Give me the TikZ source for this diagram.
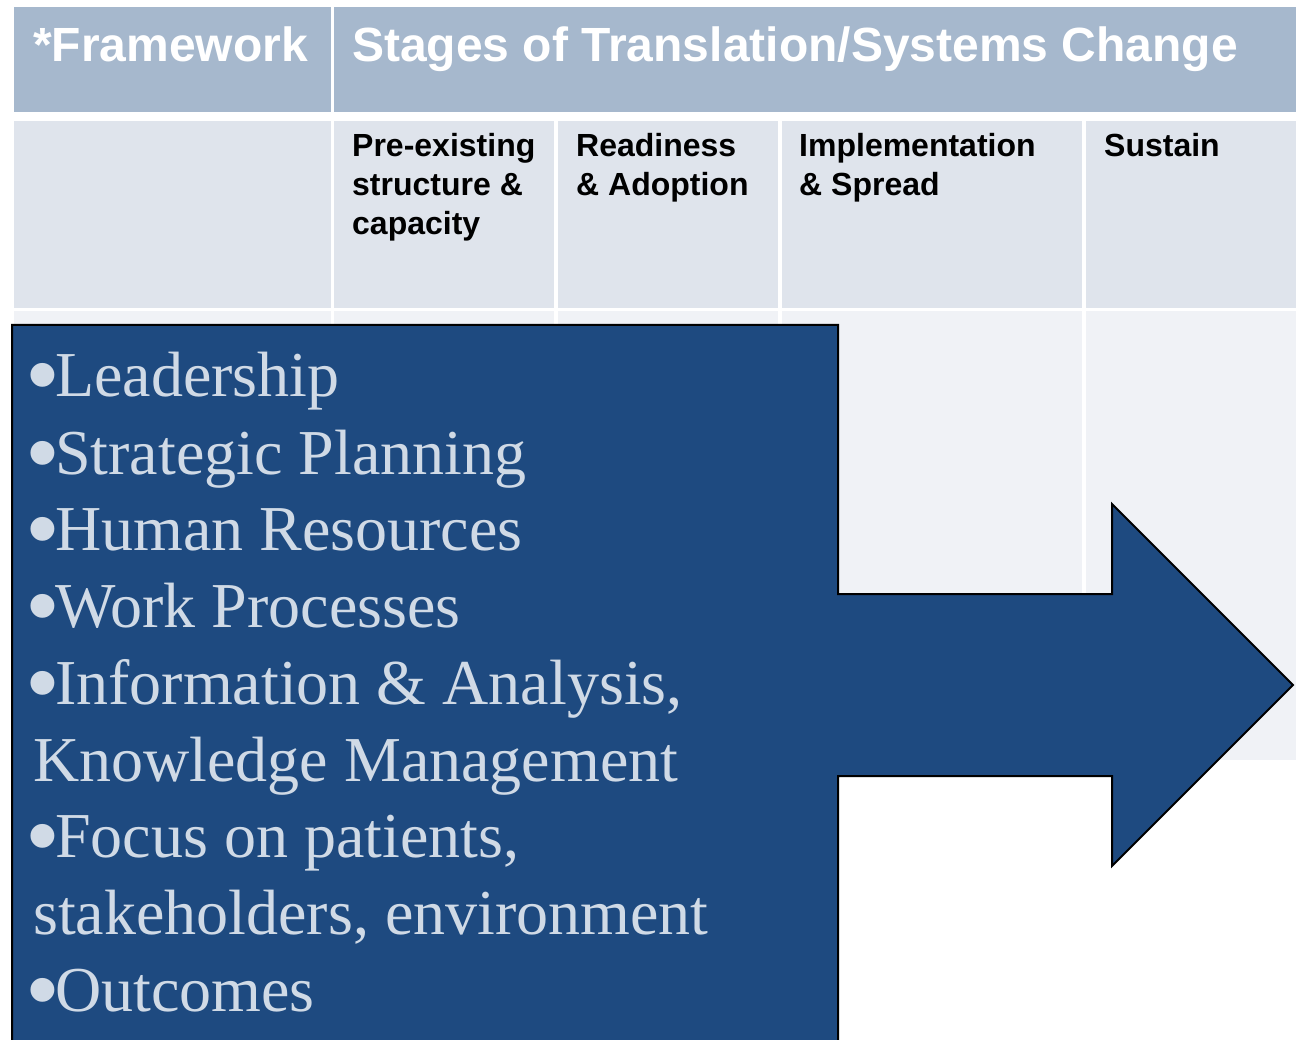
\documentclass[tikz,border=0pt]{standalone}
\usepackage{fontspec}
\setmainfont{Liberation Serif}
\newfontfamily\arialf{Liberation Sans}
\definecolor{hdr}{HTML}{A6B8CD}
\definecolor{rowa}{HTML}{DFE4EC}
\definecolor{rowb}{HTML}{F0F2F6}
\definecolor{arrowblue}{HTML}{1E4A80}
\definecolor{boxtext}{HTML}{D0DAE6}
\newcommand{\bigbul}{\makebox[18pt][c]{•}}
\tikzset{
  hdrcell/.style={fill=hdr, draw=none},
  cella/.style={fill=rowa, draw=none},
  cellb/.style={fill=rowb, draw=none},
  hdrtext/.style={anchor=base west, inner sep=0pt, text=white, font=\arialf\bfseries\fontsize{48}{57}\selectfont},
  stagetext/.style={anchor=base west, inner sep=0pt, text=black, font=\arialf\bfseries\fontsize{32}{39}\selectfont},
  boxline/.style={anchor=base west, inner sep=0pt, text=boxtext, font=\fontsize{64}{77}\selectfont},
  bulletmark/.style={anchor=base, inner sep=0pt, text=boxtext, font=\arialf\fontsize{88}{88}\selectfont},
  bigarrow/.style={fill=arrowblue, draw=black, line width=2pt, line join=miter}
}
\begin{document}
\begin{tikzpicture}[x=1pt, y=-1pt]
\useasboundingbox (0,0) rectangle (1296,1040);
\clip (0,0) rectangle (1296,1040);
% header row
\fill[hdrcell] (14,7) rectangle (331,112);
\fill[hdrcell] (334,7) rectangle (1296,112);
% second row
\fill[cella] (14,121) rectangle (331,308);
\fill[cella] (334,121) rectangle (554,308);
\fill[cella] (558,121) rectangle (778,308);
\fill[cella] (782,121) rectangle (1082,308);
\fill[cella] (1086,121) rectangle (1296,308);
% third row
\fill[cellb] (14,311) rectangle (331,760);
\fill[cellb] (334,311) rectangle (554,760);
\fill[cellb] (558,311) rectangle (778,760);
\fill[cellb] (782,311) rectangle (1082,760);
\fill[cellb] (1086,311) rectangle (1296,760);
% header texts
\node[hdrtext] (fw) at (33,62) {*Framework};
\node[hdrtext] (st) at (352,62) {Stages of Translation/Systems Change};
% stage texts
\node[stagetext] (s1a) at (352,157) {Pre-existing};
\node[stagetext] (s1b) at (352,196) {structure \&};
\node[stagetext] (s1c) at (352,235) {capacity};
\node[stagetext] (s2a) at (576,157) {Readiness};
\node[stagetext] (s2b) at (576,196) {\& Adoption};
\node[stagetext] (s3a) at (799,157) {Implementation};
\node[stagetext] (s3b) at (799,196) {\& Spread};
\node[stagetext] (s4a) at (1104,157) {Sustain};
% big arrow
\draw[bigarrow] (12,325) -- (838,325) -- (838,594) -- (1112,594) -- (1112,504)
  -- (1293,685) -- (1112,866) -- (1112,776) -- (838,776) -- (838,1060)
  -- (12,1060) -- cycle;
% bullets
\node[bulletmark] (d1) at (43,405) {\bigbul};
\node[bulletmark] (d2) at (43,482) {\bigbul};
\node[bulletmark] (d3) at (43,558) {\bigbul};
\node[bulletmark] (d4) at (43,635) {\bigbul};
\node[bulletmark] (d5) at (43,712) {\bigbul};
\node[bulletmark] (d7) at (43,865) {\bigbul};
\node[bulletmark] (d9) at (43,1019) {\bigbul};
% box texts
\node[boxline] (b1) at (55,397) {Leadership};
\node[boxline] (b2) at (55,474) {Strategic Planning};
\node[boxline] (b3) at (55,550) {Human Resources};
\node[boxline] (b4) at (55,627) {Work Processes};
\node[boxline] (b5) at (55,704) {Information \& Analysis,};
\node[boxline] (b6) at (33,781) {Knowledge Management};
\node[boxline] (b7) at (55,857) {Focus on patients,};
\node[boxline] (b8) at (33,934) {stakeholders, environment};
\node[boxline] (b9) at (55,1011) {Outcomes};
\end{tikzpicture}
\end{document}
